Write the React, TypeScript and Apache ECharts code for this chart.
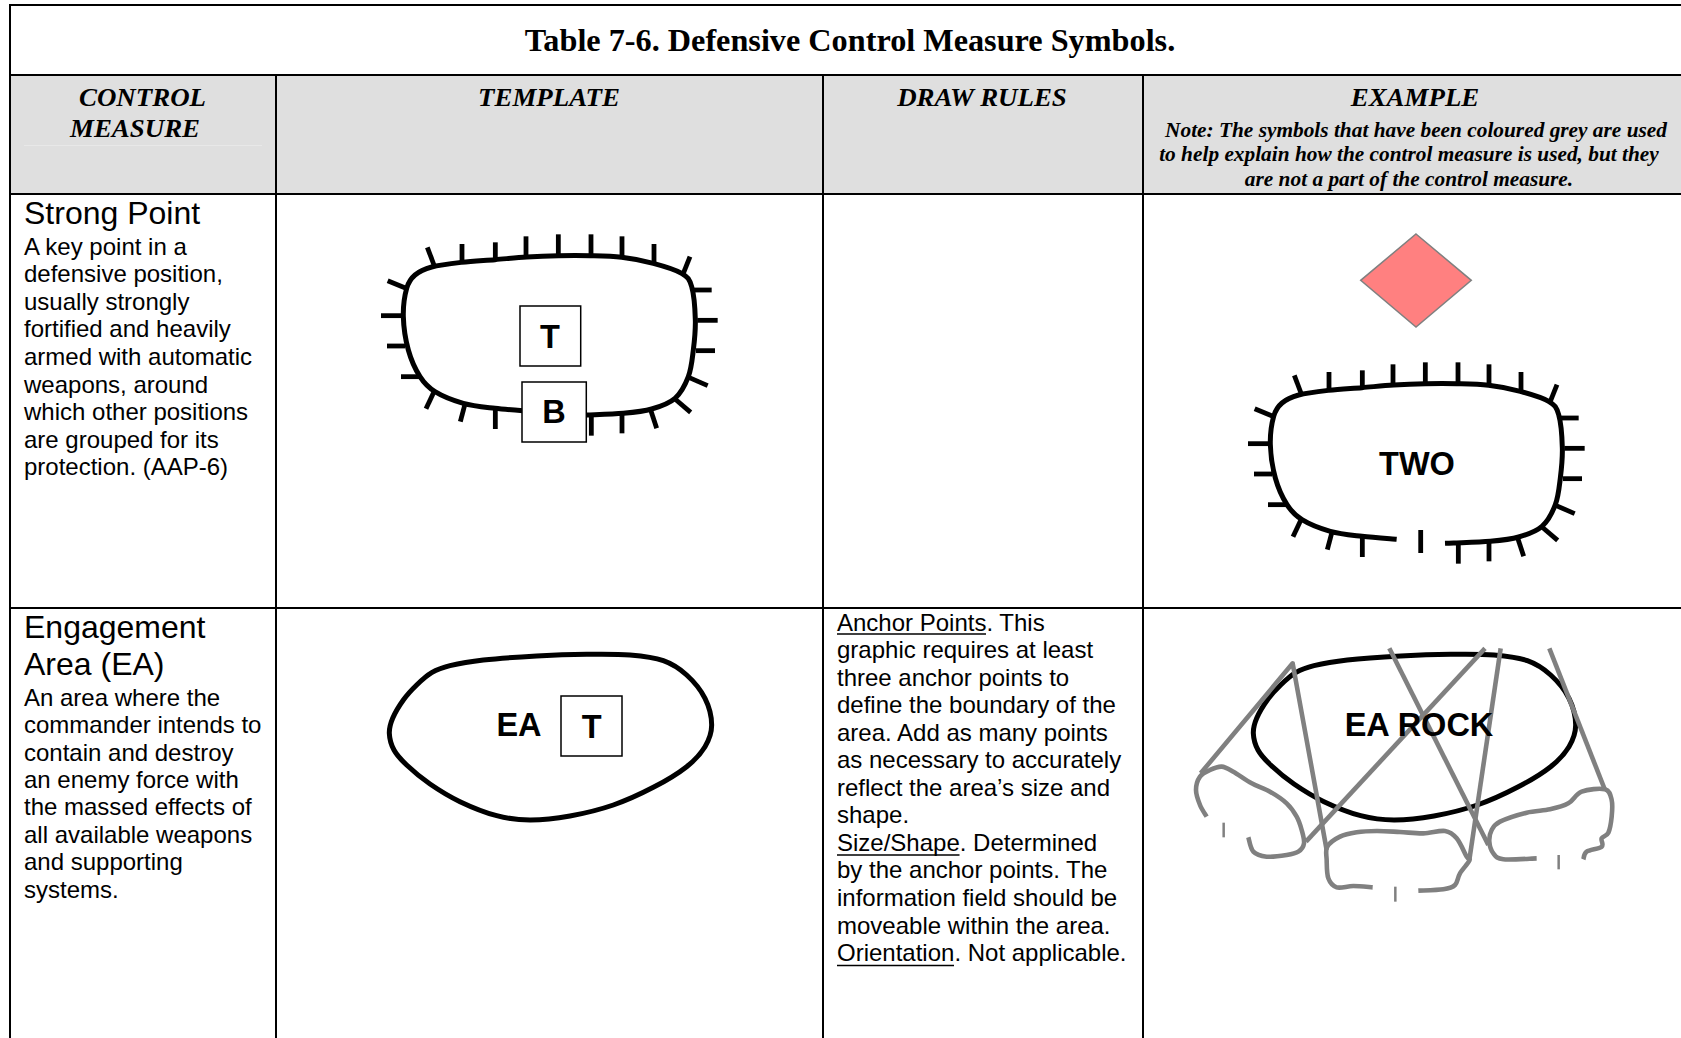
import React, { useEffect, useRef } from "react";
import * as echarts from "echarts";

type P = number[];

const W = 1681;
const H = 1038;

const title = "Table 7-6. Defensive Control Measure Symbols.";
const headColumns = ["TEMPLATE", "DRAW RULES", "EXAMPLE"];
const headMeasure = ["CONTROL", "MEASURE"];
const headNote = [
  "Note: The symbols that have been coloured grey are used",
  "to help explain how the control measure is used, but they",
  "are not a part of the control measure.",
];
const strongName = "Strong Point";
const strongBody = [
  "A key point in a",
  "defensive position,",
  "usually strongly",
  "fortified and heavily",
  "armed with automatic",
  "weapons, around",
  "which other positions",
  "are grouped for its",
  "protection. (AAP-6)",
];
const engageName = ["Engagement", "Area (EA)"];
const engageBody = [
  "An area where the",
  "commander intends to",
  "contain and destroy",
  "an enemy force with",
  "the massed effects of",
  "all available weapons",
  "and supporting",
  "systems.",
];
const drawRules = [
  "Anchor Points. This",
  "graphic requires at least",
  "three anchor points to",
  "define the boundary of the",
  "area. Add as many points",
  "as necessary to accurately",
  "reflect the area’s size and",
  "shape.",
  "Size/Shape. Determined",
  "by the anchor points. The",
  "information field should be",
  "moveable within the area.",
  "Orientation. Not applicable.",
];

// Outlines, in 3x crop coordinates
const strongOutline: P[] = [
  [654, 616], [680, 615], [790, 610], [875, 597], [945, 565], [985, 500], [1000, 420], [1006, 330],
  [995, 230], [965, 190], [880, 160], [785, 142], [690, 137], [595, 137], [500, 141], [405, 149],
  [305, 157], [215, 171], [165, 195], [140, 235], [130, 320], [145, 420], [180, 500], [225, 545],
  [310, 580], [405, 595], [509, 604],
];
const strongTicks: P[][] = [
  [[222, 165], [202, 112]], [[306, 155], [306, 102]], [[406, 148], [406, 97]], [[498, 140], [498, 79]],
  [[595, 135], [595, 73]], [[693, 135], [693, 73]], [[786, 140], [786, 79]], [[882, 158], [882, 102]],
  [[970, 190], [990, 140]], [[1000, 240], [1055, 240]], [[1012, 331], [1073, 331]], [[1008, 422], [1065, 422]],
  [[988, 503], [1043, 527]], [[945, 567], [992, 607]], [[872, 600], [890, 655]], [[786, 612], [786, 670]],
  [[694, 618], [694, 677]], [[406, 597], [406, 657]], [[315, 582], [301, 635]], [[222, 545], [198, 596]],
  [[180, 500], [123, 500]], [[135, 408], [81, 408]], [[125, 317], [63, 317]], [[138, 235], [83, 212]],
];
const eaOutline: P[] = [
  [58, 310], [68, 265], [100, 210], [140, 165], [185, 128], [240, 107], [340, 90], [500, 78], [650, 73], [780, 75],
  [880, 92], [950, 135], [1005, 205], [1025, 285], [1005, 350], [950, 410], [850, 472], [730, 525],
  [600, 558], [480, 570], [380, 557], [270, 515], [180, 462], [110, 405], [72, 360],
];
const greyLines: P[][] = [
  [[62, 430], [338, 100], [440, 660]],
  [[378, 635], [915, 55]],
  [[628, 55], [925, 645]],
  [[962, 55], [868, 690]],
  [[1108, 55], [1275, 480]],
];
const greyBlobs: P[][] = [
  [[80, 560], [60, 525], [48, 480], [60, 440], [90, 420], [125, 410], [160, 425], [215, 460], [270, 485],
    [320, 520], [350, 560], [365, 600], [372, 640], [355, 665], [320, 675], [260, 680], [220, 665], [205, 622]],
  [[578, 772], [520, 768], [470, 772], [445, 745], [440, 690], [442, 650], [480, 620], [530, 607], [590, 603],
    [660, 606], [730, 610], [795, 603], [830, 625], [860, 680], [868, 692], [840, 730], [825, 765], [790, 778], [715, 782]],
  [[1070, 685], [970, 688], [940, 670], [928, 635], [935, 600], [960, 575], [1040, 548], [1110, 538], [1165, 520],
    [1205, 485], [1275, 478], [1295, 510], [1295, 560], [1285, 608], [1265, 625], [1265, 650], [1220, 665], [1210, 688]],
];
const greyTicks: P[][] = [
  [[131, 578], [131, 622]],
  [[646, 770], [646, 815]],
  [[1136, 675], [1136, 718]],
];

const crop = (pts: P[], ox: number, oy: number): P[] => pts.map(([x, y]) => [ox + x / 3, oy + y / 3]);

function curve(pts: P[], closed: boolean): string {
  const n = pts.length;
  const at = (i: number) => (closed ? pts[(i + n) % n] : pts[Math.max(0, Math.min(n - 1, i))]);
  let d = `M${pts[0][0]} ${pts[0][1]}`;
  const last = closed ? n : n - 1;
  for (let i = 0; i < last; i++) {
    const p0 = at(i - 1), p1 = at(i), p2 = at(i + 1), p3 = at(i + 2);
    const c1x = p1[0] + (p2[0] - p0[0]) / 6, c1y = p1[1] + (p2[1] - p0[1]) / 6;
    const c2x = p2[0] - (p3[0] - p1[0]) / 6, c2y = p2[1] - (p3[1] - p1[1]) / 6;
    d += `C${c1x} ${c1y} ${c2x} ${c2y} ${p2[0]} ${p2[1]}`;
  }
  return d + (closed ? "Z" : "");
}

const SANS = '"Liberation Sans", Arial, sans-serif';
const SERIF = '"Liberation Serif", "Times New Roman", serif';

function register() {
  const reg = (name: string, d: string) => echarts.graphic.registerShape(name, echarts.graphic.extendPath(d, {}));
  reg("strongOutline", curve(crop(strongOutline, 360, 210), false));
  reg("eaOutline", curve(crop(eaOutline, 370, 630), true));
  greyBlobs.forEach((b, i) => reg("greyBlob" + i, curve(crop(b, 1180, 630), false)));
}

const txt = (text: string, x: number, y: number, size: number, family: string, opts: any = {}) => ({
  type: "text",
  x,
  y,
  silent: true,
  scaleX: opts.scaleX ?? 1,
  scaleY: opts.scaleY ?? 1,
  style: {
    text,
    fill: "#000",
    fontSize: size,
    fontFamily: family,
    fontWeight: opts.weight ?? "normal",
    fontStyle: opts.style ?? "normal",
    align: opts.align ?? "left",
    verticalAlign: "middle",
  },
});

const ln = (x1: number, y1: number, x2: number, y2: number, width: number, color = "#000") => ({
  type: "line",
  silent: true,
  shape: { x1, y1, x2, y2 },
  style: { stroke: color, lineWidth: width },
});

const box = (x: number, y: number, w: number, h: number) => ({
  type: "rect",
  silent: true,
  shape: { x, y, width: w, height: h },
  style: { fill: "#fff", stroke: "#000", lineWidth: 1.5 },
});

function buildElements(): any[] {
  const e: any[] = [];
  // table frame
  e.push({ type: "rect", silent: true, shape: { x: 10, y: 76, width: W - 10, height: 118 }, style: { fill: "#DFDFDF" } });
  e.push(ln(24, 145.5, 262, 145.5, 1, "#E8E8E8"));
  e.push(ln(9, 5, W, 5, 2));
  e.push(ln(9, 75, W, 75, 2));
  e.push(ln(9, 194, W, 194, 2));
  e.push(ln(9, 608, W, 608, 2));
  e.push(ln(10, 4, 10, H, 2));
  e.push(ln(276, 75, 276, H, 2));
  e.push(ln(823, 75, 823, H, 2));
  e.push(ln(1143, 75, 1143, H, 2));

  // headers
  const hd = { weight: "bold", style: "italic", align: "center", scaleX: 1.035 };
  e.push(txt(title, 850, 40.5, 32, SERIF, { weight: "bold", align: "center", scaleX: 1.008 }));
  e.push(txt(headMeasure[0], 142.5, 97.5, 26, SERIF, hd));
  e.push(txt(headMeasure[1], 135, 128.5, 26, SERIF, hd));
  e.push(txt(headColumns[0], 549, 97.5, 26, SERIF, hd));
  e.push(txt(headColumns[1], 982, 97.5, 26, SERIF, hd));
  e.push(txt(headColumns[2], 1415, 97.5, 26, SERIF, hd));
  const noteX = [1416, 1409, 1409];
  headNote.forEach((t, i) => e.push(txt(t, noteX[i], 130 + i * 24.4, 21, SERIF, { ...hd, scaleX: 1.017 })));

  // first column
  e.push(txt(strongName, 24, 213, 32, SANS));
  strongBody.forEach((t, i) => e.push(txt(t, 24, 246 + i * 27.6, 24, SANS)));
  engageName.forEach((t, i) => e.push(txt(t, 24, 627 + i * 36.6, 32, SANS)));
  engageBody.forEach((t, i) => e.push(txt(t, 24, 697.2 + i * 27.4, 24, SANS)));

  // draw rules
  drawRules.forEach((t, i) => e.push(txt(t, 837, 622 + i * 27.55, 24, SANS)));
  e.push(ln(837, 634, 986, 634, 1.3));
  e.push(ln(837, 855, 959.5, 855, 1.3));
  e.push(ln(837, 965.5, 954, 965.5, 1.3));

  const outlineStyle = { fill: "none", stroke: "#000", lineWidth: 5, lineJoin: "round" };
  const ticks = (dx: number, dy: number) =>
    crop(strongTicks.flat(), 360, 210).forEach((_, i, a) => {
      if (i % 2 === 0) e.push(ln(a[i][0] + dx, a[i][1] + dy, a[i + 1][0] + dx, a[i + 1][1] + dy, 4.8));
    });

  // template: strong point
  e.push({ type: "strongOutline", silent: true, style: outlineStyle });
  ticks(0, 0);
  e.push(box(520, 306, 60.7, 60));
  e.push(box(522, 382, 64.3, 60));
  e.push(txt("T", 550, 337, 32.5, SANS, { weight: "bold", align: "center" }));
  e.push(txt("B", 554, 412, 32.5, SANS, { weight: "bold", align: "center" }));

  // example: strong point
  e.push({
    type: "polygon",
    silent: true,
    shape: { points: [[1416, 234], [1471.3, 280.3], [1416, 327], [1360.7, 280.3]] },
    style: { fill: "#FF8080", stroke: "#808080", lineWidth: 1.5 },
  });
  e.push({ type: "strongOutline", x: 867, y: 128, silent: true, style: outlineStyle });
  ticks(867, 128);
  e.push(ln(1420.7, 530, 1420.7, 553, 4.8));
  e.push(txt("TWO", 1417, 464, 32.5, SANS, { weight: "bold", align: "center" }));

  // template: engagement area
  e.push({ type: "eaOutline", silent: true, style: outlineStyle });
  e.push(box(561, 696, 61, 60));
  e.push(txt("EA", 519, 725, 32.5, SANS, { weight: "bold", align: "center" }));
  e.push(txt("T", 591.7, 727, 32.5, SANS, { weight: "bold", align: "center" }));

  // example: engagement area
  e.push({ type: "eaOutline", x: 864, y: 0, silent: true, style: outlineStyle });
  const grey = { fill: "none", stroke: "#808080", lineWidth: 4.6, lineJoin: "round" };
  greyBlobs.forEach((_, i) => e.push({ type: "greyBlob" + i, silent: true, style: grey }));
  greyLines.forEach((l) => e.push({ type: "polyline", silent: true, shape: { points: crop(l, 1180, 630) }, style: grey }));
  greyTicks.forEach((l) => {
    const [a, b] = crop(l, 1180, 630);
    e.push(ln(a[0], a[1], b[0], b[1], 2.5, "#808080"));
  });
  e.push(txt("EA ROCK", 1419, 725, 32.5, SANS, { weight: "bold", align: "center" }));
  return e;
}

export default function App() {
  const ref = useRef<HTMLDivElement>(null);
  useEffect(() => {
    document.body.style.margin = "0";
    document.body.style.background = "#fff";
    register();
    const chart = echarts.init(ref.current!, null, { renderer: "svg" });
    chart.setOption({ animation: false, backgroundColor: "#fff", graphic: { elements: buildElements() } });
    return () => chart.dispose();
  }, []);
  return <div ref={ref} style={{ position: "absolute", left: 0, top: 0, width: W, height: H }} />;
}
